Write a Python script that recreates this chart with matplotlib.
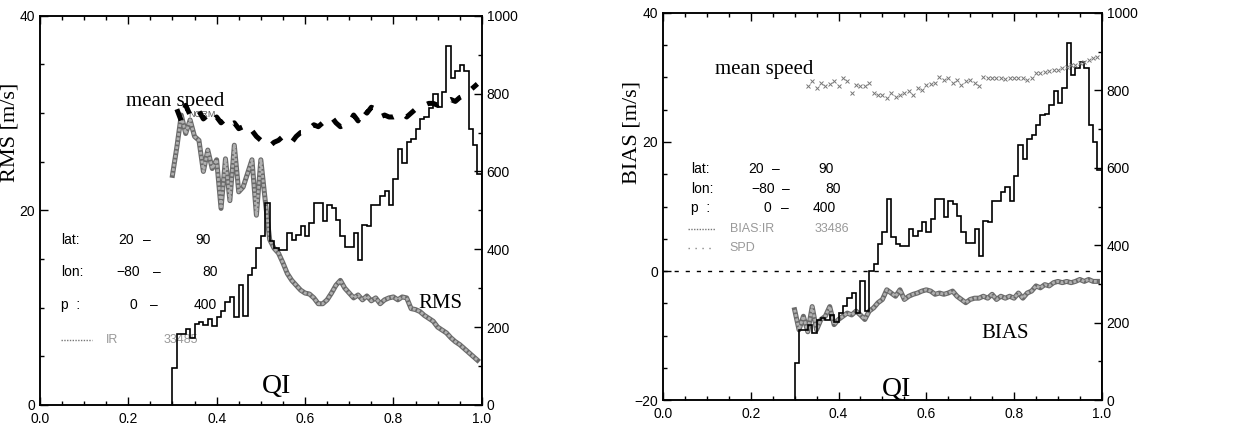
import numpy as np
import matplotlib
matplotlib.use("Agg")
import matplotlib.pyplot as plt
from matplotlib.ticker import MultipleLocator

# QI histogram (number of vectors per 0.01 bin, 0.30 .. 0.99), right axis
qi_edges_lo = 0.30
qi_counts = [95, 182, 182, 195, 173, 208, 212, 206, 221, 203,
             225, 242, 264, 277, 225, 307, 229, 333, 351, 403,
             433, 519, 420, 403, 398, 398, 442, 424, 437, 459,
             433, 468, 519, 519, 472, 515, 506, 476, 433, 407,
             407, 442, 372, 463, 459, 515, 515, 537, 550, 515,
             580, 658, 623, 675, 684, 710, 736, 740, 762, 798,
             766, 805, 922, 840, 857, 874, 857, 710, 667, 593]

# left panel: RMS (m/s) from QI 0.30 .. 0.99
rms = [23.6, 26.5, 29.8, 27.9, 29.3, 27.6, 27.2, 24.0, 26.2, 24.3,
       25.2, 20.2, 25.3, 21.0, 26.7, 21.9, 22.4, 23.8, 25.2, 19.5,
       25.2, 21.0, 17.0, 16.1, 15.6, 14.6, 13.5, 12.8, 12.3, 11.8,
       11.5, 11.4, 11.0, 10.4, 10.4, 10.8, 11.5, 12.3, 12.8, 12.0,
       11.5, 11.0, 11.3, 10.8, 11.2, 10.7, 11.0, 10.4, 10.8, 11.0,
       11.1, 10.8, 11.1, 11.0, 9.9, 9.8, 9.6, 9.2, 8.9, 8.6,
       8.0, 7.7, 7.4, 6.9, 6.5, 6.2, 5.8, 5.4, 5.0, 4.6]

# left panel: mean speed (right axis) from QI 0.31 .. 0.99
speed_l = [760, 730, 770, 745, 740, 755, 735, 745, 730, 740,
           725, 735, 720, 725, 710, 715, 700, 705, 690, 680,
           670, 665, 675, 680, 690, 680, 675, 690, 700, 700,
           710, 720, 715, 725, 735, 740, 725, 715, 720, 725,
           745, 730, 760, 750, 765, 760, 740, 745, 740, 740,
           745, 750, 740, 750, 760, 765, 770, 775, 775, 770,
           780, 780, 785, 780, 790, 795, 805, 815, 825]

# right panel: BIAS (m/s) from QI 0.30 .. 0.99
bias = [-6.0, -9.1, -7.0, -9.4, -5.5, -9.1, -7.5, -7.0, -5.5, -8.3,
        -7.5, -7.0, -6.5, -6.8, -6.2, -6.8, -7.5, -6.2, -5.7, -4.9,
        -4.4, -2.9, -3.4, -3.9, -2.9, -4.4, -3.9, -3.6, -3.4, -3.1,
        -2.9, -3.1, -3.6, -3.4, -3.6, -3.4, -3.1, -3.9, -4.4, -4.9,
        -4.4, -4.2, -4.2, -3.9, -4.2, -3.6, -4.4, -3.9, -4.2, -3.9,
        -4.2, -3.4, -4.2, -3.4, -3.1, -2.3, -2.6, -2.1, -2.3, -1.8,
        -1.6, -1.8, -1.6, -1.8, -1.6, -1.3, -1.6, -1.3, -1.6, -1.6]

# right panel: mean speed (right axis) from QI 0.33 .. 0.99
speed_r = [810, 823, 805, 818, 812, 816, 823, 810, 831, 823,
           792, 814, 812, 810, 818, 792, 788, 788, 779, 792,
           784, 788, 792, 797, 788, 805, 801, 814, 816, 818,
           835, 827, 831, 818, 827, 814, 823, 827, 818, 812,
           835, 831, 833, 831, 831, 829, 831, 831, 833, 833,
           827, 831, 844, 844, 848, 850, 853, 853, 857, 861,
           866, 866, 870, 874, 879, 883, 887]

qi_bins = qi_edges_lo + 0.01 * np.arange(len(qi_counts) + 1)
qi_x = qi_edges_lo + 0.01 * np.arange(len(rms))
spl_x = 0.31 + 0.01 * np.arange(len(speed_l))
spr_x = 0.33 + 0.01 * np.arange(len(speed_r))

SERIF = "Liberation Serif"
SANS = "Liberation Sans"
plt.rcParams["font.family"] = SANS

fig = plt.figure(figsize=(12.45, 4.28), dpi=100)
axL = fig.add_axes([0.032, 0.054, 0.355, 0.909])
axR = fig.add_axes([0.5325, 0.065, 0.3525, 0.905])


def style_axes(ax, tw, ylo, yhi):
    ax.set_xlim(0, 1)
    ax.set_ylim(ylo, yhi)
    ax.xaxis.set_major_locator(MultipleLocator(0.2))
    ax.xaxis.set_minor_locator(MultipleLocator(0.05))
    ax.yaxis.set_major_locator(MultipleLocator(20))
    ax.yaxis.set_minor_locator(MultipleLocator(5))
    ax.tick_params(which="both", direction="in", top=True, right=False,
                   labelsize=10, width=1)
    ax.tick_params(which="major", length=6)
    ax.tick_params(which="minor", length=3)
    ax.tick_params(axis="x", pad=5)
    ax.xaxis.set_major_formatter(lambda v, p: f"{v:.1f}")
    tw.set_ylim(0, 1000)
    tw.yaxis.set_major_locator(MultipleLocator(200))
    tw.yaxis.set_minor_locator(MultipleLocator(100))
    tw.tick_params(which="both", direction="in", labelsize=10, width=1)
    tw.tick_params(which="major", length=6)
    tw.tick_params(which="minor", length=3)
    tw.stairs(qi_counts, qi_bins, baseline=0, color="black", lw=1.2)
    for a in (ax, tw):
        for s in a.spines.values():
            s.set_linewidth(1.1)


def grey_line(ax, x, y):
    ax.plot(x, y, color="#6a6a6a", lw=3.6, zorder=3)
    ax.plot(x, y, color="#b0b0b0", lw=2.0, ls=(0, (1, 0.6)), zorder=3)


# ---- left panel: RMS ----
twL = axL.twinx()
style_axes(axL, twL, 0, 40)
grey_line(axL, qi_x, rms)
twL.plot(spl_x, speed_l, color="black", lw=3.6, ls=(0, (2.4, 2.8)))
axL.set_ylabel("RMS [m/s]", family=SERIF, fontsize=16)
axL.yaxis.set_label_coords(-0.047, 0.70)

axL.text(0.196, 31.2, "mean speed", family=SERIF, fontsize=15, va="center")
axL.text(0.335, 29.9, "NORM", fontsize=6.5, color="#555555", va="center")
axL.text(0.857, 10.4, "RMS", family=SERIF, fontsize=15, va="center")
axL.text(0.535, 1.9, "QI", family=SERIF, fontsize=20, ha="center", va="center")

rows_l = [(16.95, "lat:", "20", "90", 0.196, 0.242, 0.37),
          (13.7, "lon:", "\u221280", "80", 0.2, 0.264, 0.385),
          (10.3, "p  :", "0", "400", 0.211, 0.257, 0.374)]
for y, lab, a, b, xa, xd, xb in rows_l:
    axL.text(0.049, y, lab, fontsize=10, va="center")
    axL.text(xa, y, a, fontsize=10, va="center", ha="center")
    axL.text(xd, y, "\u2013", fontsize=10, va="center", ha="center")
    axL.text(xb, y, b, fontsize=10, va="center", ha="center")
axL.plot([0.049, 0.117], [6.7, 6.7], color="#777777", lw=1, ls=(0, (1, 1)))
axL.text(0.15, 6.7, "IR", fontsize=9, color="#999999", va="center")
axL.text(0.32, 6.7, "33485", fontsize=9, color="#999999", va="center", ha="center")

# ---- right panel: BIAS ----
twR = axR.twinx()
style_axes(axR, twR, -20, 40)
axR.axhline(0, color="black", lw=1, ls=(0, (3, 5)))
grey_line(axR, qi_x, bias)
twR.plot(spr_x, speed_r, ls="none", marker="x", ms=2.4, mew=0.7, color="#777777")
axR.set_ylabel("BIAS [m/s]", family=SERIF, fontsize=16)
axR.yaxis.set_label_coords(-0.05, 0.69)

axR.text(0.118, 31.2, "mean speed", family=SERIF, fontsize=15, va="center")
axR.text(0.725, -9.6, "BIAS", family=SERIF, fontsize=15, va="center")
axR.text(0.533, -18.4, "QI", family=SERIF, fontsize=20, ha="center", va="center")

rows_r = [(15.8, "lat:", "20", "90", 0.213, 0.258, 0.372),
          (12.7, "lon:", "\u221280", "80", 0.228, 0.281, 0.387),
          (9.7, "p  :", "0", "400", 0.239, 0.277, 0.368)]
for y, lab, a, b, xa, xd, xb in rows_r:
    axR.text(0.065, y, lab, fontsize=10, va="center")
    axR.text(xa, y, a, fontsize=10, va="center", ha="center")
    axR.text(xd, y, "\u2013", fontsize=10, va="center", ha="center")
    axR.text(xb, y, b, fontsize=10, va="center", ha="center")
axR.plot([0.057, 0.118], [6.5, 6.5], color="#777777", lw=1, ls=(0, (1, 1)))
axR.text(0.152, 6.5, "BIAS:IR", fontsize=9, color="#999999", va="center")
axR.text(0.345, 6.5, "33486", fontsize=9, color="#999999", va="center")
axR.plot([0.057, 0.118], [3.6, 3.6], color="#888888", lw=1, ls=(0, (1, 4)))
axR.text(0.152, 3.6, "SPD", fontsize=9, color="#999999", va="center")

fig.savefig("out.png", dpi=100)
